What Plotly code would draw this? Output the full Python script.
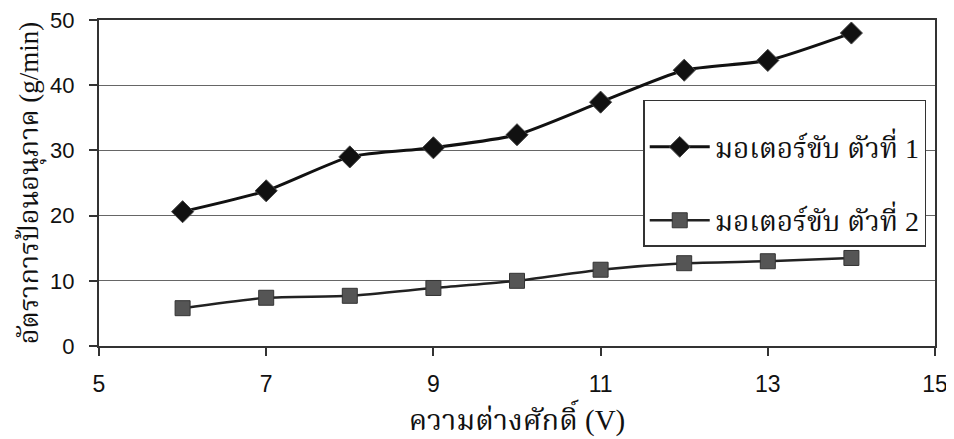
import plotly.graph_objects as go

voltage = [6, 7, 8, 9, 10, 11, 12, 13, 14]
motor1 = [20.6, 23.8, 29.0, 30.4, 32.4, 37.4, 42.3, 43.8, 48.0]
motor2 = [5.8, 7.4, 7.7, 8.9, 10.0, 11.7, 12.7, 13.0, 13.5]
name1 = "มอเตอร์ขับ ตัวที่ 1"
name2 = "มอเตอร์ขับ ตัวที่ 2"
x_ticks = [5, 7, 9, 11, 13, 15]
y_ticks = [0, 10, 20, 30, 40, 50]

thai_font = "Liberation Serif, Noto Serif Thai, Noto Sans Thai, serif"

fig = go.Figure()
fig.add_trace(go.Scatter(
    x=voltage, y=motor1, name=name1, mode="lines+markers", legendgroup="g1",
    line=dict(color="#111111", width=3, shape="spline", smoothing=0.6),
    marker=dict(symbol="diamond", size=17, color="#111111",
                line=dict(color="#444444", width=1)),
))
fig.add_trace(go.Scatter(
    x=voltage, y=motor2, name=name2, mode="lines+markers", legendgroup="g2",
    line=dict(color="#222222", width=2.5, shape="spline", smoothing=0.6),
    marker=dict(symbol="square", size=15, color="#555555",
                line=dict(color="#333333", width=1)),
))

fig.update_layout(
    width=946, height=431,
    margin=dict(l=91, r=19, t=12, b=93),
    paper_bgcolor="white", plot_bgcolor="white",
    font=dict(family="Liberation Sans, Arial, sans-serif", color="#111111", size=22),
    showlegend=True,
    legend=dict(
        x=0.651, y=0.755, xanchor="left", yanchor="top",
        bgcolor="white", bordercolor="#333333", borderwidth=1.5,
        font=dict(family=thai_font, size=28, color="#111111"),
        title=dict(text=" ", font=dict(size=16)),
        tracegroupgap=34, itemwidth=60,
    ),
    xaxis=dict(
        range=[5, 15], tickvals=x_ticks, ticks="outside", ticklen=8,
        tickcolor="#333333", tickwidth=1.5, automargin=False,
        ticklabeloverflow="allow", ticklabelstandoff=8,
        showline=True, linecolor="#333333", linewidth=2, mirror=True,
        showgrid=False, zeroline=False,
        tickfont=dict(size=23),
        title=dict(text="ความต่างศักดิ์ (V)", font=dict(family=thai_font, size=29), standoff=14),
    ),
    yaxis=dict(
        range=[0, 50], tickvals=y_ticks, ticks="outside", ticklen=8,
        tickcolor="#333333", tickwidth=1.5, automargin=False,
        ticklabeloverflow="allow", ticklabelstandoff=10,
        showline=True, linecolor="#333333", linewidth=2, mirror=True,
        showgrid=True, gridcolor="#666666", gridwidth=1, zeroline=False,
        tickfont=dict(size=22),
        title=dict(text="อัตราการป้อนอนุภาค (g/min)", font=dict(family=thai_font, size=27), standoff=4),
    ),
)

fig.write_html("out.html")
